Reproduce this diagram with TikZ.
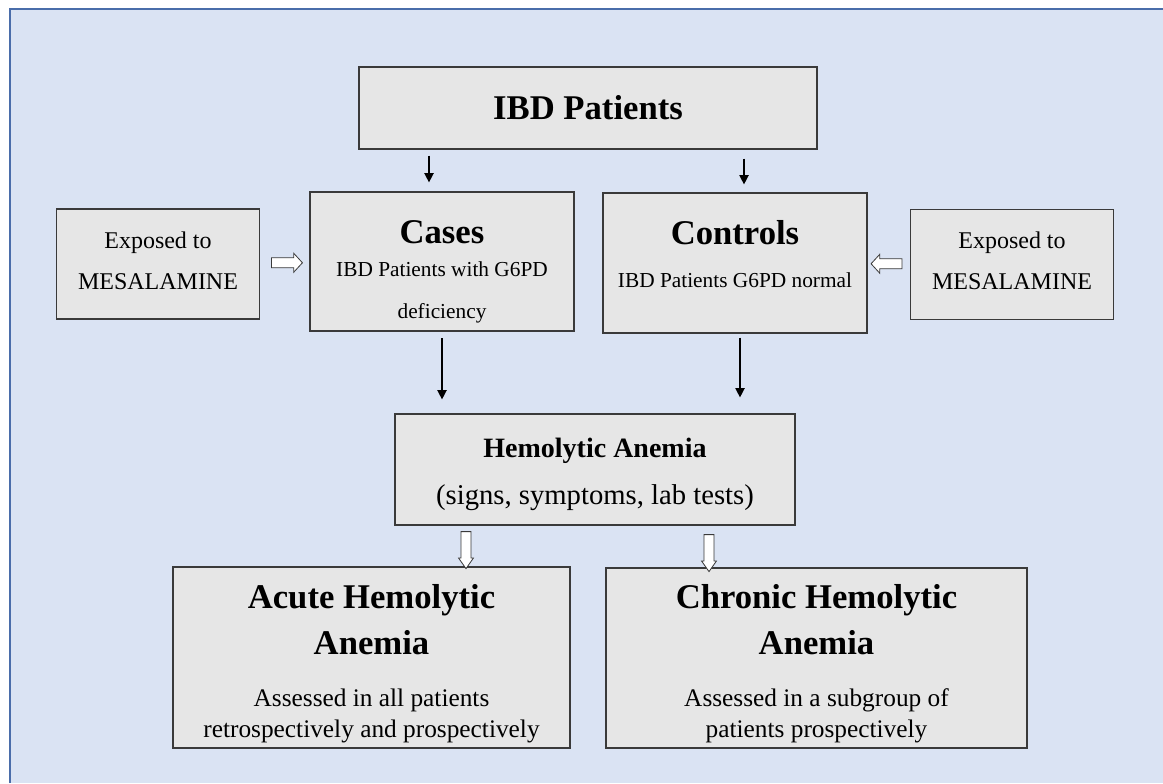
\documentclass[tikz,border=0pt]{standalone}
\usepackage{fontspec}
\setmainfont{Liberation Serif}
\usepackage{tikz}
\usetikzlibrary{arrows.meta,positioning,calc,shapes.arrows}
\definecolor{panel}{HTML}{DAE3F3}
\definecolor{frameln}{HTML}{4A6DAA}
\definecolor{boxbg}{HTML}{E6E6E6}
\definecolor{boxln}{HTML}{3A3A3A}
\newcommand{\ttl}{\fontsize{26}{30}\selectfont\bfseries}
\newcommand{\up}[1]{\rule{0pt}{#1}}
\newcommand{\dn}[1]{\rule[-#1]{0pt}{#1}}
\newcommand{\fsz}[2]{\fontsize{#1}{#2}\selectfont\lineskiplimit=-50pt}
\tikzset{
  box/.style={draw=boxln,line width=0.9pt,fill=boxbg,inner xsep=0pt,inner ysep=0pt,align=center},
  expbox/.style={box,minimum width=152pt,minimum height=82.5pt,font=\fsz{18}{30.75}},
  grpbox/.style={box,minimum width=198pt},
  resbox/.style={box,minimum height=135pt,font=\fsz{19}{23.25}},
  flow/.style={-{Triangle[length=7pt,width=7pt]},line width=1pt,draw=black},
  % --- hollow block arrows ---
  hollow/.style={single arrow,draw=boxln,fill=white,line width=0.6pt,
    inner xsep=0pt,inner ysep=3.4pt,text height=0pt,text depth=0pt,minimum width=0pt},
  hollowh/.style={hollow,minimum height=23.25pt,
    single arrow head extend=3.4pt,single arrow tip angle=95},
  hollowd/.style={hollow,rotate=-90,minimum height=27.75pt,
    single arrow head extend=1.9pt,single arrow tip angle=70},
}
\begin{document}
\begin{tikzpicture}[x=0.75pt,y=-0.75pt]
  \useasboundingbox (0,0) rectangle (1163,783);
  \fill[panel] (10,9) rectangle (1163,783);
  \draw[frameln,line width=2pt] (10,783) -- (10,9) -- (1163,9);

  \node[box,minimum width=343.5pt,minimum height=61.5pt,font=\ttl] (ibd) at (588,108) {IBD Patients};
  \node[grpbox,font=\fsz{16}{24.75}] (cases) at (442,261.5)
    {{\ttl\up{38.25pt}Cases}\\ IBD Patients with G6PD\\[6.75pt] deficiency\dn{9.75pt}};
  \node[grpbox,font=\fsz{16}{32.25}] (ctrl) at (735,263)
    {{\ttl\up{38.25pt}Controls}\\ IBD Patients G6PD normal\dn{34.5pt}};
  \node[expbox] (expl) at (158,264) {\up{29.25pt}Exposed to\\ MESALAMINE\dn{22.5pt}};
  \node[expbox] (expr) at (1012,264.5) {\up{29.25pt}Exposed to\\ MESALAMINE\dn{22.5pt}};
  \node[box,minimum width=300pt,font=\fsz{21.5}{35.25}] (hemo) at (595,469.5)
    {{\fontsize{21}{25}\selectfont\bfseries\up{32.25pt}Hemolytic Anemia}\\ (signs, symptoms, lab tests)\dn{15.75pt}};
  \node[resbox,minimum width=297.75pt] (acute) at (371.5,657.5)
    {{\ttl\up{30.75pt}Acute Hemolytic}\\[11.25pt] {\ttl Anemia}\\[15.75pt]
     Assessed in all patients\\ retrospectively and prospectively\dn{8.25pt}};
  \node[resbox,minimum width=315.75pt] (chron) at (816.5,658)
    {{\ttl\up{30pt}Chronic Hemolytic}\\[11.25pt] {\ttl Anemia}\\[15.75pt]
     Assessed in a subgroup of\\ patients prospectively\dn{8.25pt}};

  \draw[flow,shorten <=4.5pt,shorten >=6.75pt] ($(cases.north |- ibd.south)+(-13,0)$) -- ($(cases.north)+(-13,0)$);
  \draw[flow,shorten <=6.75pt,shorten >=6pt] ($(ctrl.north |- ibd.south)+(9,0)$) -- ($(ctrl.north)+(9,0)$);
  \draw[flow,shorten <=5pt,shorten >=10.5pt] (cases.south) -- (cases.south |- hemo.north);
  \draw[flow,shorten <=3pt,shorten >=12pt] ($(ctrl.south)+(5,0)$) -- ($(ctrl.south |- hemo.north)+(5,0)$);

  \node[hollowh] (in1) at ($(expl.east)!0.5!(cases.west)$) {};
  \node[hollowh,rotate=180] (in2) at ($(ctrl.east)!0.5!(expr.west)$) {};
  \node[hollowd] (out1) at ($(hemo.south)+(-129,21)$) {};
  \node[hollowd] (out2) at ($(hemo.south)+(114,24)$) {};
\end{tikzpicture}
\end{document}
